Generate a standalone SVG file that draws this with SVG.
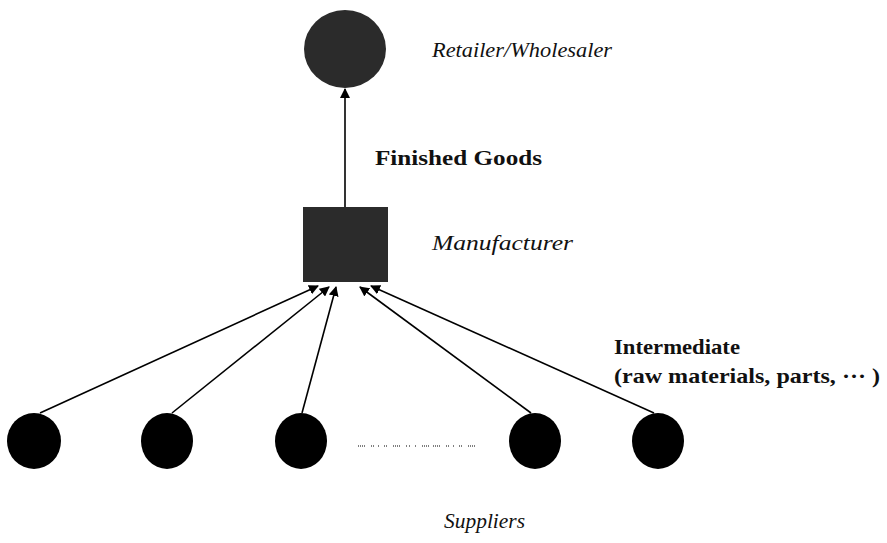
<svg xmlns="http://www.w3.org/2000/svg" width="887" height="543" viewBox="0 0 887 543">
<style>
.it{font-family:"Liberation Serif",serif;font-style:italic;font-size:22px;fill:#111}
.bd{font-family:"Liberation Serif",serif;font-weight:bold;font-size:22px;fill:#111}
.edge{stroke:#000;stroke-width:1.6;fill:none;marker-end:url(#ah)}
.sup{fill:#000}
</style>
<defs>
<marker id="ah" viewBox="0 0 10 10" refX="9" refY="5" markerWidth="10" markerHeight="10" markerUnits="userSpaceOnUse" orient="auto">
<path d="M0,0 L10,5 L0,10 z" fill="#000"/>
</marker>
</defs>
<rect width="887" height="543" fill="#fff"/>
<g id="retailer">
<ellipse cx="345" cy="49" rx="41" ry="39" fill="#2b2b2b"/>
<text class="it" x="432" y="57" textLength="180" lengthAdjust="spacingAndGlyphs">Retailer/Wholesaler</text>
</g>
<g id="manufacturer">
<rect x="303" y="207" width="85" height="75" fill="#2b2b2b"/>
<text class="it" x="432" y="250" textLength="141" lengthAdjust="spacingAndGlyphs">Manufacturer</text>
</g>
<g id="supplier1"><ellipse class="sup" cx="34" cy="441" rx="27" ry="28"/></g>
<g id="supplier2"><ellipse class="sup" cx="167" cy="441" rx="26" ry="28"/></g>
<g id="supplier3"><ellipse class="sup" cx="301" cy="441" rx="26" ry="28"/></g>
<g id="supplier4"><ellipse class="sup" cx="535" cy="441" rx="26" ry="28"/></g>
<g id="supplier5"><ellipse class="sup" cx="658" cy="441" rx="26" ry="28"/></g>
<g id="ellipsis">
<line x1="358" y1="446" x2="476" y2="446" stroke="#555" stroke-width="1.5" stroke-dasharray="1 1 1 1 1 1 1 6 1 1 1 4 1 5 1 1 1 6 1 1 1 1 1 1 1 6 1 2 1 5 1 6 1 1 1 1 1 1 1 4"/>
</g>
<g id="labels">
<text class="bd" x="375" y="165" textLength="167" lengthAdjust="spacingAndGlyphs">Finished Goods</text>
<text class="bd" x="614" y="354" textLength="126" lengthAdjust="spacingAndGlyphs">Intermediate</text>
<text class="bd" x="614" y="383" textLength="266" lengthAdjust="spacingAndGlyphs">(raw materials, parts, ···  )</text>
<text class="it" x="444" y="528" textLength="81" lengthAdjust="spacingAndGlyphs">Suppliers</text>
</g>
<g id="connectors">
<line class="edge" x1="345" y1="207" x2="345" y2="89"/>
<line class="edge" x1="40" y1="413" x2="318" y2="286"/>
<line class="edge" x1="172" y1="413" x2="329" y2="287"/>
<line class="edge" x1="302" y1="413" x2="336" y2="287"/>
<line class="edge" x1="531" y1="413" x2="360" y2="287"/>
<line class="edge" x1="654" y1="413" x2="371" y2="286"/>
</g>
</svg>
